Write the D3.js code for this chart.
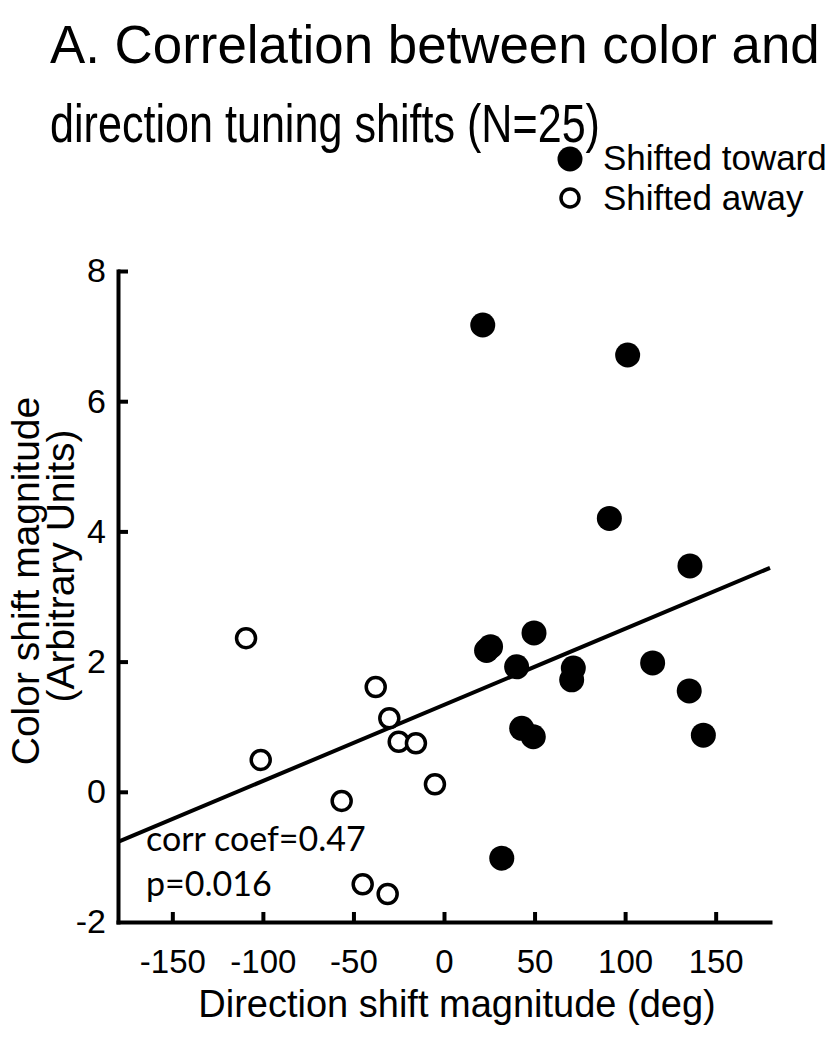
<!DOCTYPE html>
<html><head><meta charset="utf-8">
<script src="https://cdn.jsdelivr.net/npm/d3@7"></script>
<style>
html,body{margin:0;padding:0;background:#fff;}
svg{display:block;}
</style></head>
<body>
<script>
// ---- data ----
const titleLines = ["A. Correlation between color and", "direction tuning shifts (N=25)"];
const legendLabels = ["Shifted toward", "Shifted away"];
const xTicks = [-150, -100, -50, 0, 50, 100, 150];
const yTicks = [-2, 0, 2, 4, 6, 8];
const xDomain = [-180, 180];
const yDomain = [-2, 8];
// Shifted toward (filled)
const towardX = [21.4, 101.4, 91.3, 135.8, 49.7, 23.5, 25.7, 40.1, 71.4, 70.5, 115.2, 135.4, 42.9, 49.3, 143.2, 31.9];
const towardY = [7.17, 6.71, 4.20, 3.47, 2.44, 2.17, 2.23, 1.92, 1.90, 1.72, 1.98, 1.55, 0.975, 0.846, 0.87, -1.02];
// Shifted away (open)
const awayX = [-109.3, -37.7, -30.2, -25.0, -15.5, -101.2, -5.0, -56.5, -44.9, -31.1];
const awayY = [2.36, 1.61, 1.13, 0.77, 0.745, 0.49, 0.115, -0.14, -1.42, -1.57];
// regression line endpoints
const fitX = [-180, 180];
const fitY = [-0.77, 3.44];
const statLines = ["corr coef=0.47", "p=0.016"];
const xTitle = "Direction shift magnitude (deg)";
const yTitleLines = ["Color shift magnitude", "(Arbitrary Units)"];

// ---- drawing ----
const W = 831, H = 1050;
const svg = d3.select("body").append("svg").attr("width", W).attr("height", H)
  .attr("font-family", "'Liberation Sans', Arial, Helvetica, sans-serif");

const x = d3.scaleLinear().domain(xDomain).range([118, 770]);
const y = d3.scaleLinear().domain(yDomain).range([922, 271]);

// title (fitted horizontally to the measured line widths)
const titleWidths = [770, 550];
svg.append("g").selectAll("text").data(titleLines).join("text")
  .attr("x", 0).attr("y", 0)
  .attr("font-size", 54).attr("fill", "#000")
  .text(d => d)
  .each(function(d, i) {
    const w = this.getComputedTextLength();
    const sx = titleWidths[i] / w;
    d3.select(this).attr("transform", `translate(50,${63 + i * 79}) scale(${sx},1)`);
  });

// legend
const leg = svg.append("g");
leg.append("circle").attr("cx", 570).attr("cy", 159).attr("r", 12.5).attr("fill", "#000");
leg.append("circle").attr("cx", 570).attr("cy", 198).attr("r", 9).attr("fill", "#fff")
  .attr("stroke", "#000").attr("stroke-width", 3.5);
leg.selectAll("text").data(legendLabels).join("text")
  .attr("x", 603).attr("y", (d, i) => 170 + i * 40)
  .attr("font-size", 35).attr("fill", "#000").text(d => d);

// axes
const fmt = d => String(d);
const xAxis = svg.append("g").attr("transform", `translate(0,${y(-2)})`)
  .call(d3.axisBottom(x).tickValues(xTicks).tickSize(-10).tickSizeOuter(0).tickPadding(28).tickFormat(fmt));
const yAxis = svg.append("g").attr("transform", `translate(${x(-180)},0)`)
  .call(d3.axisLeft(y).tickValues(yTicks).tickSize(-10).tickSizeOuter(0).tickPadding(12).tickFormat(fmt));
[xAxis, yAxis].forEach(g => {
  g.attr("font-family", null).attr("font-size", null);
  g.select(".domain").attr("stroke", "#000").attr("stroke-width", 4).attr("stroke-linecap", "square");
  g.selectAll(".tick line").attr("stroke", "#000").attr("stroke-width", 4);
  g.selectAll(".tick text").attr("fill", "#000");
});
xAxis.selectAll(".tick text").attr("font-size", 33);
yAxis.selectAll(".tick text").attr("font-size", 34);
yAxis.selectAll(".tick").filter(d => d === -2).select("line").remove();

// axis titles
svg.append("text").attr("x", 457).attr("y", 1017).attr("text-anchor", "middle")
  .attr("font-size", 38).attr("fill", "#000").text(xTitle);
svg.append("g").selectAll("text").data(yTitleLines).join("text")
  .attr("transform", (d, i) => `translate(${39 + i * 35},${i === 0 ? 581 : 566}) rotate(-90)`)
  .attr("text-anchor", "middle").attr("font-size", 39).attr("fill", "#000").text(d => d);

// fit line
svg.append("line")
  .attr("x1", x(fitX[0])).attr("y1", y(fitY[0]))
  .attr("x2", x(fitX[1])).attr("y2", y(fitY[1]))
  .attr("stroke", "#000").attr("stroke-width", 4);

// points
const toward = towardX.map((v, i) => ({x: v, y: towardY[i]}));
const away = awayX.map((v, i) => ({x: v, y: awayY[i]}));
svg.append("g").selectAll("circle").data(away).join("circle")
  .attr("cx", d => x(d.x)).attr("cy", d => y(d.y)).attr("r", 9.5)
  .attr("fill", "#fff").attr("stroke", "#000").attr("stroke-width", 3.5);
svg.append("g").selectAll("circle").data(toward).join("circle")
  .attr("cx", d => x(d.x)).attr("cy", d => y(d.y)).attr("r", 12.5)
  .attr("fill", "#000");

// stats
svg.append("g").selectAll("text").data(statLines).join("text")
  .attr("x", 146).attr("y", (d, i) => 851 + i * 45)
  .attr("font-size", 34).attr("font-family", "Lato, 'Open Sans', sans-serif")
  .attr("fill", "#000").text(d => d);
</script>
</body></html>
